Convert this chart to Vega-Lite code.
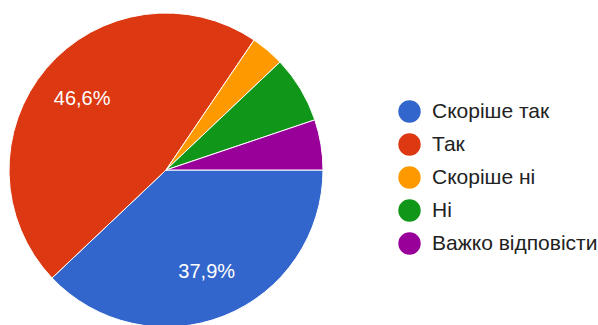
{
  "$schema": "https://vega.github.io/schema/vega-lite/v6.json",
  "autosize": {"type": "pad"},
  "padding": 0,
  "width": 332,
  "height": 340,
  "background": "white",
  "config": {"view": {"stroke": null}, "font": "Liberation Sans"},
  "data": {"values": [
    {"answer": "Скоріше так", "count": 22, "order": 1, "label": "37,9%"},
    {"answer": "Так", "count": 27, "order": 2, "label": "46,6%"},
    {"answer": "Скоріше ні", "count": 2, "order": 3, "label": ""},
    {"answer": "Ні", "count": 4, "order": 4, "label": ""},
    {"answer": "Важко відповісти", "count": 3, "order": 5, "label": ""}
  ]},
  "encoding": {
    "theta": {"field": "count", "type": "quantitative", "stack": true, "scale": {"range": [1.5708, 7.854]}},
    "order": {"field": "order", "type": "quantitative", "sort": "ascending"}
  },
  "layer": [
    {
      "mark": {"type": "arc", "outerRadius": 157, "stroke": "white", "strokeWidth": 1},
      "encoding": {
        "color": {
          "field": "answer", "type": "nominal",
          "scale": {
            "domain": ["Скоріше так", "Так", "Скоріше ні", "Ні", "Важко відповісти"],
            "range": ["#3366cc", "#dc3912", "#ff9900", "#109618", "#990099"]
          },
          "legend": {
            "title": null,
            "orient": "none",
            "legendX": 398,
            "legendY": 100,
            "padding": 0,
            "symbolType": "circle",
            "symbolSize": 500,
            "symbolStrokeWidth": 0,
            "labelFontSize": 21,
            "labelColor": "#222222",
            "labelOffset": 11,
            "rowPadding": 10,
            "labelLimit": 300
          }
        }
      }
    },
    {
      "mark": {"type": "text", "radius": 110, "fill": "white", "fontSize": 20, "baseline": "middle", "align": "center"},
      "encoding": {
        "detail": {"field": "answer", "type": "nominal"},
        "text": {"field": "label", "type": "nominal"}
      }
    }
  ]
}
